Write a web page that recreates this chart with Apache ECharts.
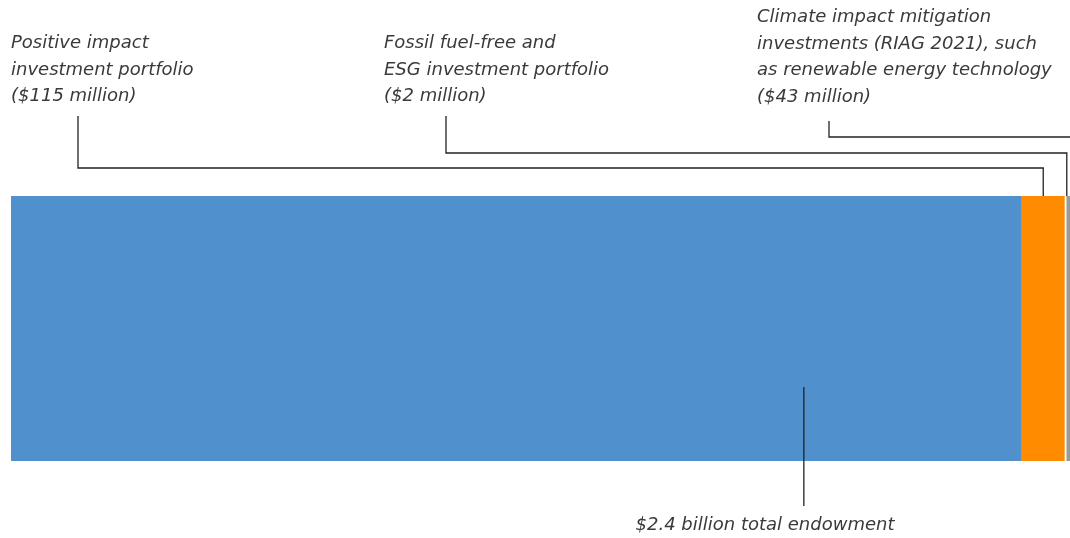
<!DOCTYPE html>
<html><head><meta charset="utf-8">
<script src="https://cdn.jsdelivr.net/npm/echarts@6/dist/echarts.min.js"></script>
<style>html,body{margin:0;padding:0;background:#fff;overflow:hidden;width:1070px;height:538px}#c{width:1094px;height:538px}</style>
</head><body><div id="c"></div>
<script>
// ---- data ($ million) ----
const categories = ['Endowment'];
const totalEndowment = [2400];
const restOfEndowment = [2240];
const positiveImpact = [95];
const gapValues = [4];
const fossilFreeAndClimate = [61];

const labelTexts = [
  'Positive impact\ninvestment portfolio\n($115 million)',
  'Fossil fuel-free and\nESG investment portfolio\n($2 million)',
  'Climate impact mitigation\ninvestments (RIAG 2021), such\nas renewable energy technology\n($43 million)',
  '$2.4 billion total endowment'
];
// data-space x where each leader line touches the bar
const leaderAnchors = [2287.5, 2339.7, 2400, 1757];

const FONT = 'italic 18px "DejaVu Sans"';
const TXT = '#3a3a3a';
const LINE = '#222';

const chart = echarts.init(document.getElementById('c'), null, {renderer: 'canvas'});
const barBase = {type: 'bar', stack: 'e', barWidth: '100%', silent: true};
chart.setOption({
  animation: false,
  grid: {left: 11, top: 196, right: 0, height: 265},
  xAxis: {type: 'value', min: 0, max: totalEndowment[0], show: false},
  yAxis: {type: 'category', data: categories, show: false},
  series: [
    Object.assign({}, barBase, {name: 'Rest', data: restOfEndowment, itemStyle: {color: '#5090cc'}}),
    Object.assign({}, barBase, {name: 'Positive impact', data: positiveImpact, itemStyle: {color: '#ff8c00'}}),
    Object.assign({}, barBase, {name: 'gap', data: gapValues, itemStyle: {color: 'rgba(0,0,0,0)'}}),
    Object.assign({}, barBase, {name: 'Fossil free', data: fossilFreeAndClimate, itemStyle: {color: '#9a9a9a'}})
  ]
});

const px = v => chart.convertToPixel({xAxisIndex: 0}, v);
const barTop = 196;
const line = pts => ({type: 'polyline', z: 100, shape: {points: pts}, style: {stroke: LINE, lineWidth: 1.3, fill: null}, silent: true});
const text = (t, x, y, align) => ({type: 'text', z: 100, x: x, y: y, style: {text: t, font: FONT, fill: TXT, lineHeight: 26.7, align: align || 'left', verticalAlign: 'top'}, silent: true});

chart.setOption({
  graphic: [
    text(labelTexts[0], 11, 30),
    text(labelTexts[1], 384, 30),
    text(labelTexts[2], 757, 4),
    text(labelTexts[3], 765, 512, 'center'),
    line([[78, 116], [78, 168], [px(leaderAnchors[0]), 168], [px(leaderAnchors[0]), barTop]]),
    line([[446, 116], [446, 153], [px(leaderAnchors[1]), 153], [px(leaderAnchors[1]), barTop]]),
    line([[829, 121], [829, 137], [px(leaderAnchors[2]), 137]]),
    line([[px(leaderAnchors[3]), 387], [px(leaderAnchors[3]), 506]])
  ]
});
</script></body></html>
